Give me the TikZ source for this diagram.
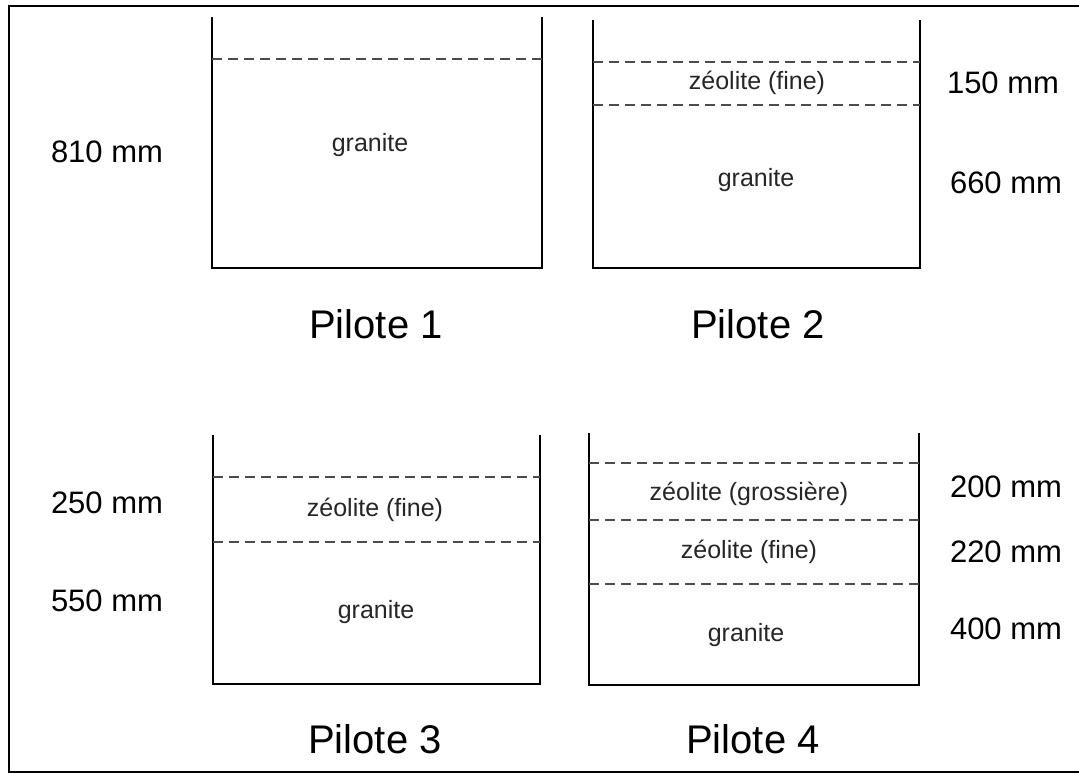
\documentclass[tikz,border=0pt]{standalone}
\usepackage{fontspec}
\setmainfont{Liberation Sans}

\tikzset{
  wall/.style={line width=2.6pt, line join=miter},
  layer/.style={line width=1.6pt, black!70, dash pattern=on 10pt off 6pt},
  mat/.style={inner sep=0pt, text=black!85, font=\fontsize{25}{30}\selectfont},
  depth/.style={inner sep=0pt, font=\fontsize{31}{37}\selectfont},
  pilote/.style={inner sep=0pt, font=\fontsize{40}{48}\selectfont}
}

\begin{document}
\begin{tikzpicture}[x=1pt, y=-1pt]
    \useasboundingbox (0,0) rectangle (1079,774);

    % frame
    \draw[line width=2.4pt] (1079,6) -- (9,6) -- (9,772) -- (1079,772);

    % pilote 1
    \draw[wall] (212,17) -- (212,268) -- (542,268) -- (542,17);
    \draw[layer] (212,59) -- (542,59);
    \node[mat] (p1gra) at (370,145) {granite};
    \node[depth] (p1d1) at (107,152) {810 mm};
    \node[pilote] (p1) at (376,324) {Pilote 1};

    % pilote 2
    \draw[wall] (593,20) -- (593,268) -- (920,268) -- (920,20);
    \draw[layer] (593,62) -- (920,62);
    \draw[layer] (593,105) -- (920,105);
    \node[mat] (p2zeo) at (757,83) {zéolite (fine)};
    \node[mat] (p2gra) at (756,180) {granite};
    \node[depth] (p2d1) at (1003,83) {150 mm};
    \node[depth] (p2d2) at (1006,183) {660 mm};
    \node[pilote] (p2) at (758,324) {Pilote 2};

    % pilote 3
    \draw[wall] (213,435) -- (213,684) -- (540,684) -- (540,435);
    \draw[layer] (213,477) -- (540,477);
    \draw[layer] (213,542) -- (540,542);
    \node[mat] (p3zeo) at (375,510) {zéolite (fine)};
    \node[mat] (p3gra) at (376,612) {granite};
    \node[depth] (p3d1) at (107,503) {250 mm};
    \node[depth] (p3d2) at (107,601) {550 mm};
    \node[pilote] (p3) at (375,739) {Pilote 3};

    % pilote 4
    \draw[wall] (589,433) -- (589,685) -- (919,685) -- (919,433);
    \draw[layer] (589,463) -- (919,463);
    \draw[layer] (589,520) -- (919,520);
    \draw[layer] (589,584) -- (919,584);
    \node[mat] (p4zeog) at (749,494) {zéolite (grossière)};
    \node[mat] (p4zeof) at (749,552) {zéolite (fine)};
    \node[mat] (p4gra) at (746,635) {granite};
    \node[depth] (p4d1) at (1006,487) {200 mm};
    \node[depth] (p4d2) at (1006,552) {220 mm};
    \node[depth] (p4d3) at (1006,629) {400 mm};
    \node[pilote] (p4) at (753,739) {Pilote 4};
\end{tikzpicture}
\end{document}
